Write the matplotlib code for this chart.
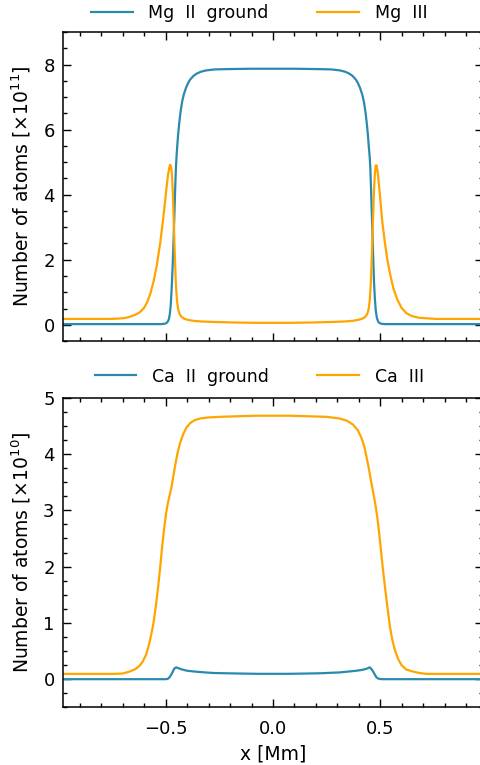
import numpy as np
from matplotlib import pyplot as plt
from matplotlib.ticker import MultipleLocator

# Mg panel (units of 1e11 atoms)
x_mg2 = [-0.977, -0.60, -0.52, -0.505, -0.497, -0.490, -0.484, -0.480, -0.476,
         -0.473, -0.470, -0.467, -0.464, -0.461, -0.458, -0.455, -0.452, -0.449,
         -0.446, -0.442, -0.437, -0.430, -0.423, -0.415, -0.405, -0.395, -0.385,
         -0.370, -0.355, -0.335, -0.310, -0.270, -0.200, -0.100, 0.0, 0.100,
         0.200, 0.270, 0.310, 0.335, 0.355, 0.370, 0.385, 0.395, 0.405, 0.415,
         0.423, 0.430, 0.437, 0.442, 0.446, 0.450, 0.453, 0.456, 0.459, 0.462,
         0.466, 0.470, 0.474, 0.478, 0.483, 0.489, 0.496, 0.505, 0.52, 0.60, 0.977]
y_mg2 = [0.02, 0.02, 0.02, 0.03, 0.05, 0.09, 0.18, 0.33, 0.59,
         0.92, 1.31, 1.80, 2.33, 2.95, 3.55, 4.20, 4.78, 5.15,
         5.45, 5.80, 6.15, 6.55, 6.85, 7.08, 7.28, 7.43, 7.54,
         7.65, 7.72, 7.78, 7.82, 7.85, 7.86, 7.87, 7.87, 7.87,
         7.86, 7.85, 7.82, 7.78, 7.72, 7.65, 7.54, 7.43, 7.28, 7.08,
         6.85, 6.55, 6.15, 5.80, 5.45, 5.15, 4.78, 4.20, 3.55, 2.95,
         2.10, 1.31, 0.80, 0.45, 0.22, 0.10, 0.05, 0.03, 0.02, 0.02, 0.02]

x_mg3 = [-0.977, -0.76, -0.72, -0.70, -0.68, -0.66, -0.64, -0.62, -0.60,
         -0.585, -0.570, -0.555, -0.540, -0.525, -0.512, -0.502, -0.494, -0.488,
         -0.483, -0.479, -0.475, -0.471, -0.468, -0.465, -0.462, -0.459, -0.456,
         -0.453, -0.450, -0.446, -0.441, -0.434, -0.425, -0.412, -0.395, -0.370,
         -0.330, -0.270, -0.180, -0.080, 0.0, 0.080, 0.180, 0.270, 0.330, 0.370,
         0.395, 0.412, 0.425, 0.434, 0.441, 0.446, 0.450, 0.454, 0.458, 0.462,
         0.466, 0.470, 0.474, 0.478, 0.482, 0.487, 0.493, 0.500, 0.509, 0.520,
         0.532, 0.545, 0.560, 0.578, 0.598, 0.620, 0.645, 0.675, 0.71, 0.76, 0.977]
y_mg3 = [0.18, 0.18, 0.19, 0.20, 0.22, 0.26, 0.31, 0.38, 0.52,
         0.70, 0.97, 1.35, 1.85, 2.50, 3.20, 3.80, 4.30, 4.62,
         4.82, 4.92, 4.88, 4.70, 4.35, 3.86, 3.25, 2.60, 2.00,
         1.45, 1.05, 0.70, 0.47, 0.32, 0.24, 0.18, 0.15, 0.12,
         0.10, 0.085, 0.07, 0.06, 0.06, 0.06, 0.07, 0.085, 0.10, 0.12,
         0.15, 0.18, 0.22, 0.28, 0.38, 0.52, 0.75, 1.15, 1.80, 2.55,
         3.40, 4.15, 4.65, 4.90, 4.90, 4.70, 4.30, 3.80, 3.14, 2.55,
         2.00, 1.55, 1.12, 0.78, 0.52, 0.36, 0.27, 0.22, 0.20, 0.18, 0.18]

# Ca panel (units of 1e10 atoms)
x_ca2 = [-0.977, -0.50, -0.490, -0.482, -0.475, -0.468, -0.462, -0.456, -0.450,
         -0.440, -0.430, -0.415, -0.400, -0.375, -0.350, -0.315, -0.278, -0.220,
         -0.150, -0.070, 0.0, 0.070, 0.150, 0.220, 0.280, 0.311, 0.350, 0.388,
         0.415, 0.435, 0.450, 0.458, 0.466, 0.474, 0.481, 0.490, 0.505, 0.977]
y_ca2 = [0.0, 0.0, 0.005, 0.03, 0.07, 0.12, 0.17, 0.20, 0.21,
         0.195, 0.18, 0.165, 0.15, 0.14, 0.13, 0.12, 0.11, 0.105,
         0.10, 0.095, 0.095, 0.095, 0.10, 0.105, 0.115, 0.12, 0.135, 0.15,
         0.165, 0.185, 0.21, 0.18, 0.135, 0.08, 0.035, 0.01, 0.0, 0.0]

x_ca3 = [-0.977, -0.74, -0.70, -0.667, -0.640, -0.620, -0.605, -0.590, -0.578,
         -0.566, -0.555, -0.545, -0.535, -0.525, -0.515, -0.505, -0.496, -0.488,
         -0.480, -0.472, -0.463, -0.454, -0.444, -0.432, -0.418, -0.403, -0.385,
         -0.365, -0.340, -0.300, -0.250, -0.170, -0.080, 0.0, 0.080, 0.170, 0.250,
         0.311, 0.345, 0.373, 0.395, 0.412, 0.425, 0.435, 0.446, 0.458, 0.468,
         0.478, 0.486, 0.494, 0.502, 0.510, 0.519, 0.528, 0.536, 0.544, 0.555,
         0.567, 0.582, 0.598, 0.620, 0.652, 0.68, 0.714, 0.977]
y_ca3 = [0.094, 0.094, 0.10, 0.135, 0.18, 0.24, 0.32, 0.44, 0.60,
         0.80, 1.02, 1.30, 1.62, 1.98, 2.38, 2.72, 2.98, 3.15,
         3.28, 3.42, 3.62, 3.82, 4.02, 4.20, 4.35, 4.47, 4.55,
         4.60, 4.63, 4.65, 4.66, 4.67, 4.68, 4.68, 4.68, 4.67, 4.66,
         4.63, 4.59, 4.52, 4.42, 4.28, 4.13, 3.95, 3.74, 3.48, 3.28,
         3.07, 2.85, 2.59, 2.30, 2.00, 1.70, 1.41, 1.17, 0.93, 0.70,
         0.52, 0.36, 0.25, 0.17, 0.135, 0.11, 0.094, 0.094]

blue = '#2a8aae'
orange = '#ffa500'

plt.rcParams['font.family'] = 'DejaVu Sans'
plt.rcParams['font.size'] = 13

fig = plt.figure(figsize=(4.8, 7.65), dpi=100)
ax1 = fig.add_axes([0.13125, 0.5542, 0.875, 0.404])
ax2 = fig.add_axes([0.13125, 0.0754, 0.875, 0.4047])

ax1.plot(x_mg2, y_mg2, color=blue, lw=1.6, label='Mg  II  ground')
ax1.plot(x_mg3, y_mg3, color=orange, lw=1.6, label='Mg  III')
ax2.plot(x_ca2, y_ca2, color=blue, lw=1.6, label='Ca  II  ground')
ax2.plot(x_ca3, y_ca3, color=orange, lw=1.6, label='Ca  III')

ax1.set_ylim(-0.5, 9)
ax2.set_ylim(-0.5, 5)
ax1.yaxis.set_major_locator(MultipleLocator(2))
ax1.yaxis.set_minor_locator(MultipleLocator(0.5))
ax2.yaxis.set_major_locator(MultipleLocator(1))
ax2.yaxis.set_minor_locator(MultipleLocator(0.25))
ax1.set_ylabel(r'Number of atoms [$\times10^{11}$]', fontsize=13.5, labelpad=7)
ax2.set_ylabel(r'Number of atoms [$\times10^{10}$]', fontsize=13.5, labelpad=7)
ax2.set_xlabel('x [Mm]', fontsize=13.5, labelpad=5)

for ax, bpad in ((ax1, 0.15), (ax2, 0.3)):
    ax.set_xlim(-0.977, 0.977)
    ax.xaxis.set_major_locator(MultipleLocator(0.5))
    ax.xaxis.set_minor_locator(MultipleLocator(0.1))
    ax.tick_params(which='both', direction='in', top=True, right=True, width=1)
    ax.tick_params(which='major', length=6)
    ax.tick_params(which='minor', length=3)
    ax.tick_params(axis='y', pad=6)
    ax.tick_params(axis='x', pad=9)
    for s in ax.spines.values():
        s.set_linewidth(1.1)
    ax.legend(loc='lower center', bbox_to_anchor=(0.467, 1.0), ncol=2,
              frameon=False, fontsize=12.5, handlelength=2.4, handletextpad=0.9,
              columnspacing=2.8, borderaxespad=bpad)

ax1.tick_params(axis='x', labelbottom=False)

fig.savefig('out.png', dpi=100)
